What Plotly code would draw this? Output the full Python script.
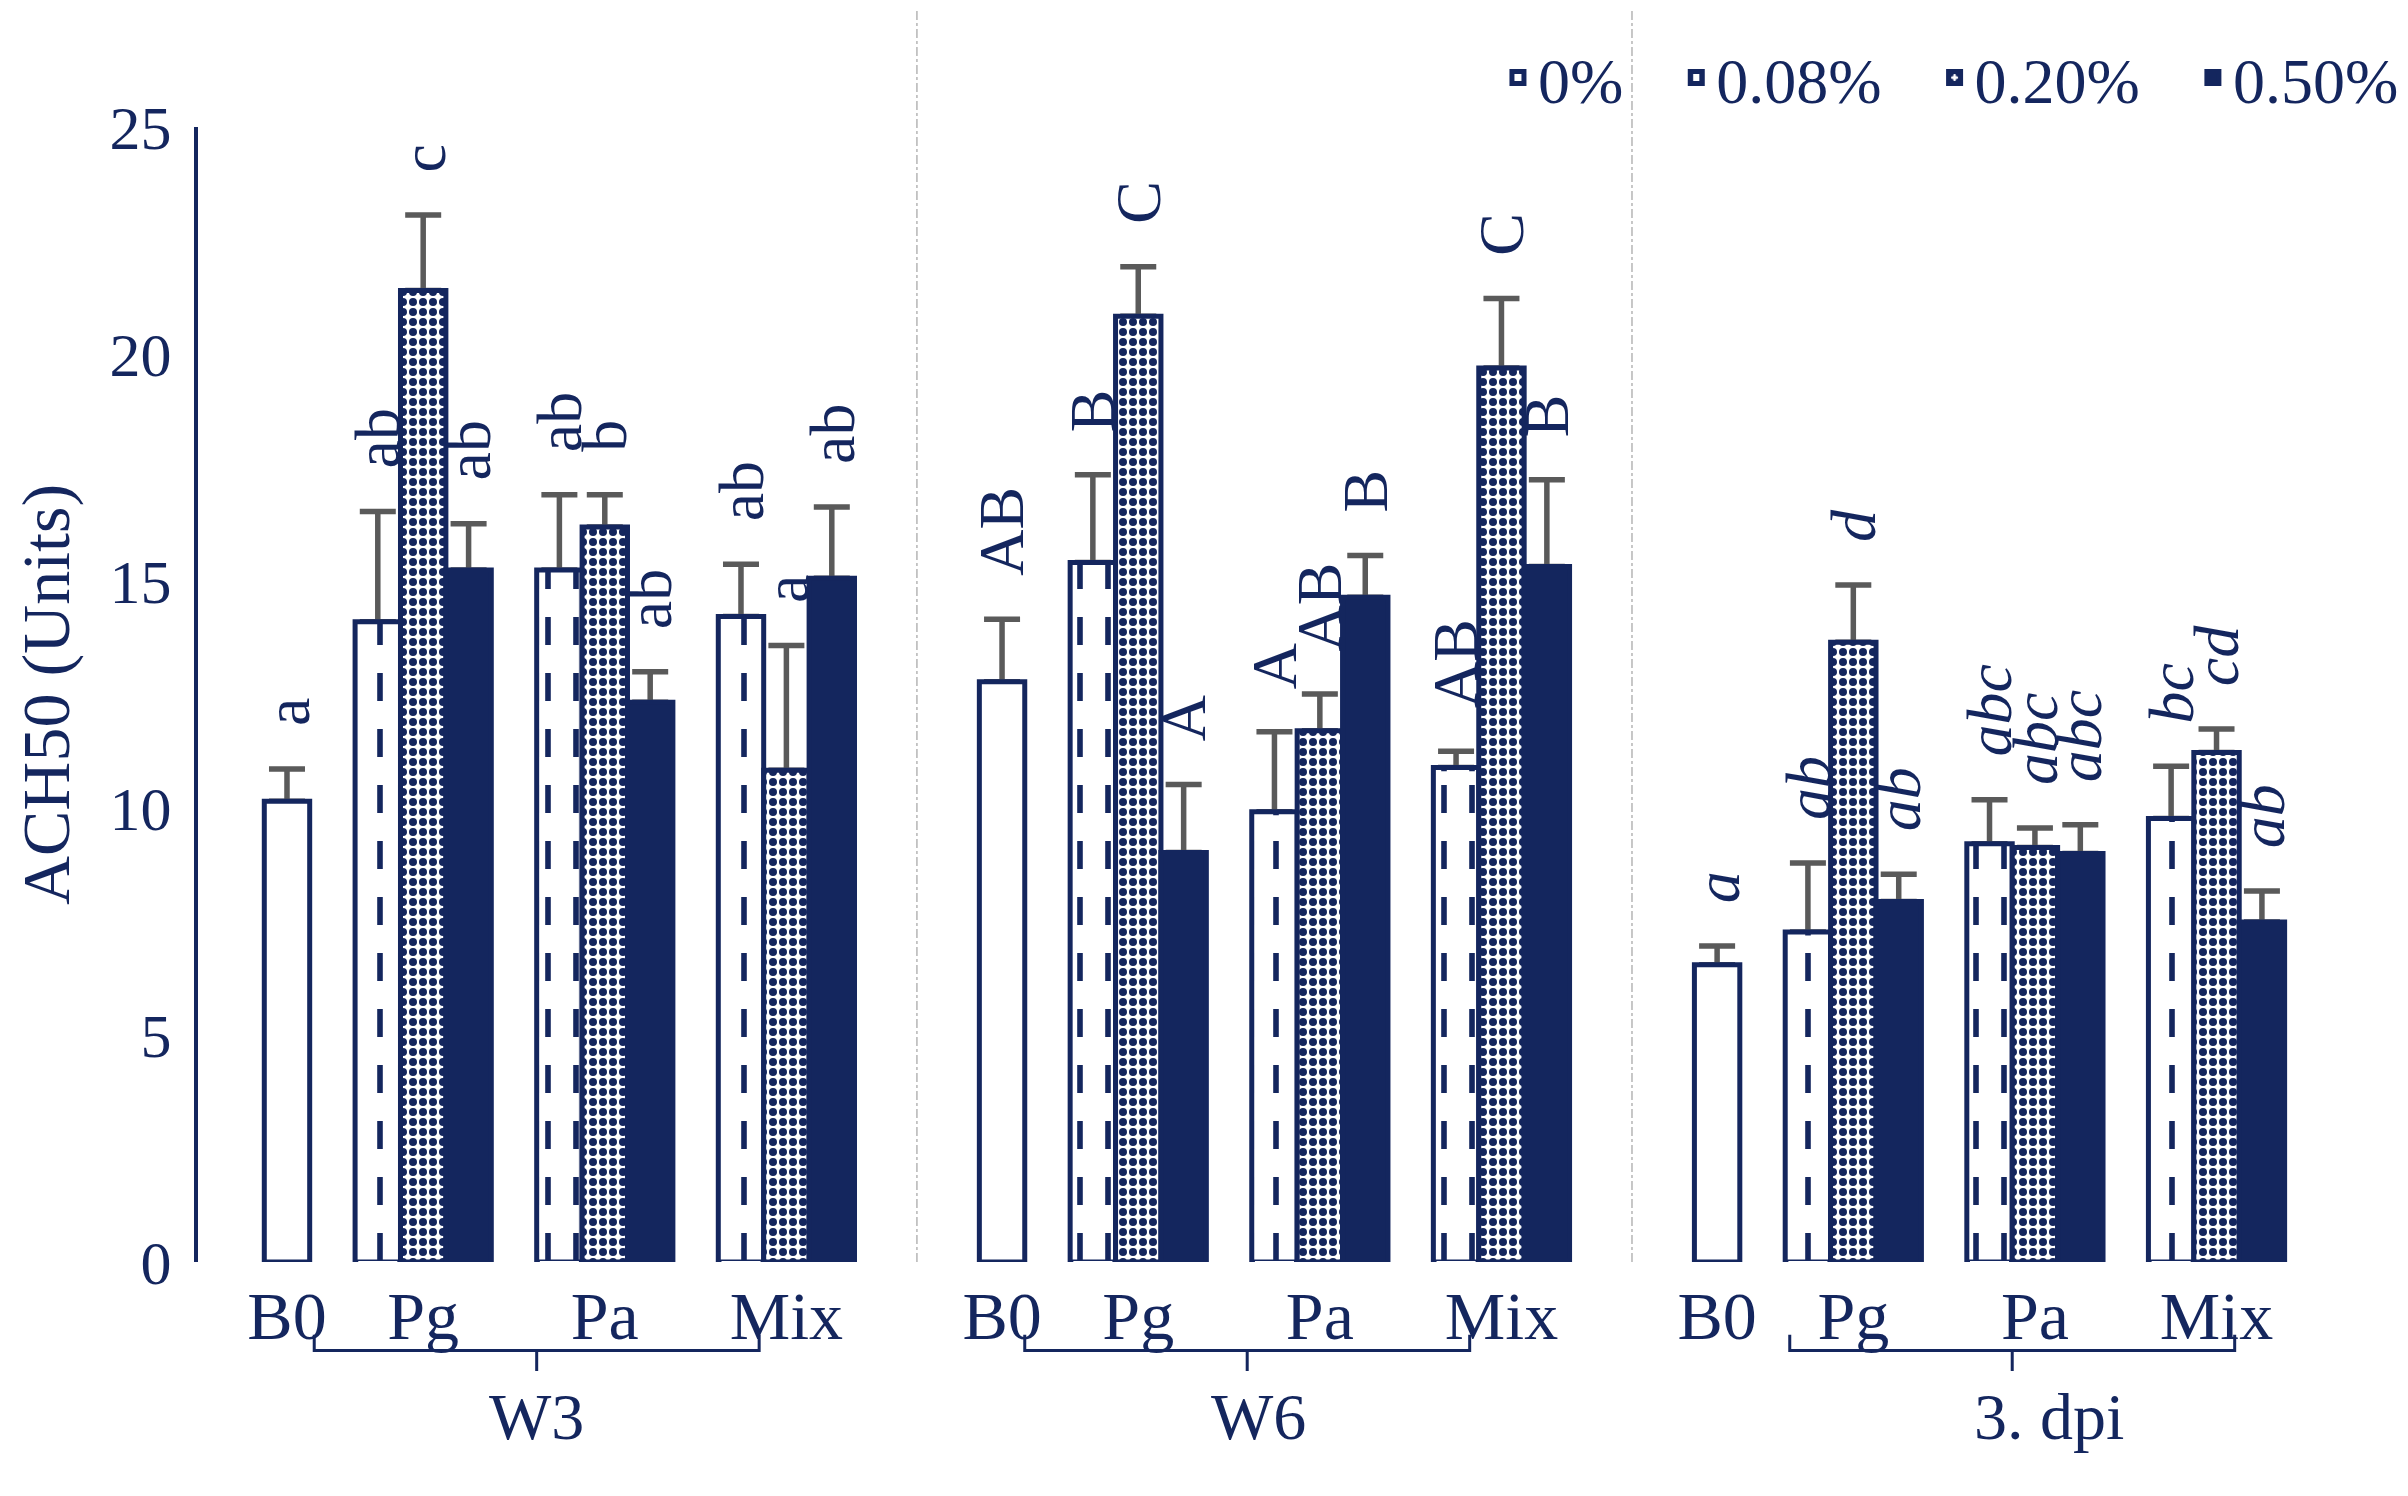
import plotly.graph_objects as go

# sampling times and treatments
groups = ["W3", "W6", "3. dpi"]
treatments = ["Pg", "Pa", "Mix"]
doses = ["0.08%", "0.20%", "0.50%"]

# B0 control (0%) for each sampling time
b0_mean = [10.15, 12.78, 6.55]
b0_err = [0.71, 1.38, 0.41]
b0_letters = ["a", "AB", "a"]

# dose series, ordered W3 Pg/Pa/Mix, W6 Pg/Pa/Mix, 3. dpi Pg/Pa/Mix
mean_008 = [14.10, 15.24, 14.22, 15.41, 9.92, 10.89, 7.27, 9.21, 9.77]
err_008 = [2.43, 1.66, 1.15, 1.93, 1.76, 0.36, 1.52, 0.97, 1.15]
letters_008 = ["ab", "ab", "ab", "B", "A", "AB", "ab", "abc", "bc"]

mean_020 = [21.40, 16.19, 10.83, 20.83, 11.70, 19.69, 13.65, 9.13, 11.22]
err_020 = [1.66, 0.71, 2.75, 1.09, 0.81, 1.53, 1.26, 0.43, 0.52]
letters_020 = ["c", "b", "a", "C", "AB", "C", "d", "abc", "cd"]

mean_050 = [15.24, 12.33, 15.06, 9.02, 14.64, 15.32, 7.94, 9.00, 7.49]
err_050 = [1.02, 0.67, 1.57, 1.50, 0.92, 1.91, 0.60, 0.63, 0.68]
letters_050 = ["ab", "ab", "ab", "A", "B", "B", "ab", "abc", "ab"]

dose_means = [mean_008, mean_020, mean_050]
dose_errs = [err_008, err_020, err_050]
dose_letters = [letters_008, letters_020, letters_050]

NAVY = "#14265e"
GREY = "#5a5a5a"
FONT = "Liberation Serif"
STRIDE = 15.75   # bar slots from one sampling time to the next
Y_MAX = 25
NBSP = "\u00a0"


def b0_x(g):
    return g * STRIDE + 0.5


def dose_x(g, t, d):
    return g * STRIDE + 2 + 4 * t + d + 0.5


b0_xs = [b0_x(g) for g in range(len(groups))]
dose_xs = [[dose_x(g, t, d) for g in range(len(groups)) for t in range(len(treatments))]
           for d in range(len(doses))]

fig = go.Figure()

# error bars first, so the bars drawn afterwards hide the lower caps
all_x = b0_xs + [x for xs in dose_xs for x in xs]
all_y = b0_mean + [v for vs in dose_means for v in vs]
all_e = b0_err + [v for vs in dose_errs for v in vs]
fig.add_trace(go.Bar(
    x=all_x, y=all_y, width=1,
    marker=dict(color="rgba(0,0,0,0)", line=dict(width=0)),
    error_y=dict(type="data", symmetric=False, array=all_e, arrayminus=[0] * len(all_e),
                 color=GREY, thickness=5.5, width=18),
    showlegend=False, hoverinfo="skip"
))

line = dict(color=NAVY, width=5)
fig.add_trace(go.Bar(
    x=b0_xs, y=b0_mean, width=1, name="0%" + NBSP * 3,
    marker=dict(color="white", line=line)
))
styles = [
    dict(color="white", line=line,
         pattern=dict(shape="|", fgcolor=NAVY, bgcolor="white", fgopacity=1,
                      size=28, solidity=0.2)),
    dict(color="white", line=line,
         pattern=dict(shape=".", fgcolor=NAVY, bgcolor="white", fgopacity=1,
                      size=10, solidity=0.5)),
    dict(color=NAVY, line=line),
]
for d in range(len(doses)):
    fig.add_trace(go.Bar(
        x=dose_xs[d], y=dose_means[d], width=1,
        name=doses[d] + (NBSP * 3 if d < len(doses) - 1 else ""),
        marker=styles[d]
    ))

# white bands over the 0.08% bars turn the vertical lines into dashes
fig.add_trace(go.Bar(
    x=dose_xs[0], y=[v - 0.08 for v in mean_008], width=0.86,
    marker=dict(color="rgba(0,0,0,0)", line=dict(width=0),
                pattern=dict(shape="-", fgcolor="white", fgopacity=1,
                             size=56, solidity=0.5)),
    showlegend=False, hoverinfo="skip"
))

# significance letters above error bars
def letter(text, g):
    return f"<i>{text}</i>" if g == 2 else text


annotations = []
pad = 0.9
for g in range(len(groups)):
    annotations.append(dict(
        x=b0_xs[g], y=b0_mean[g] + b0_err[g] + pad, text=letter(b0_letters[g], g)))
for d in range(len(doses)):
    for i, x in enumerate(dose_xs[d]):
        g = i // len(treatments)
        annotations.append(dict(
            x=x, y=dose_means[d][i] + dose_errs[d][i] + pad,
            text=letter(dose_letters[d][i], g)))
for a in annotations:
    a.update(xref="x", yref="y", textangle=-90, showarrow=False,
             xanchor="center", yanchor="bottom",
             font=dict(family=FONT, size=64, color=NAVY))

# group labels and brackets under the treatment labels
bracket_shift = [0, -0.1, 1.0]
label_shift = [0, 0.25, 0.8]
shapes = []
y_br = -1.95 / Y_MAX
y_end = -1.6 / Y_MAX
y_mid = -2.4 / Y_MAX
for g, name in enumerate(groups):
    x0 = g * STRIDE + 1.1 + bracket_shift[g]
    x1 = g * STRIDE + 10.9 + bracket_shift[g]
    xm = (x0 + x1) / 2
    shapes.append(dict(
        type="path", xref="x", yref="paper",
        path=f"M {x0},{y_end} L {x0},{y_br} L {x1},{y_br} L {x1},{y_end} "
             f"M {xm},{y_br} L {xm},{y_mid}",
        line=dict(color=NAVY, width=3)))
    annotations.append(dict(
        x=xm + label_shift[g], y=-3.4 / Y_MAX, xref="x", yref="paper", text=name,
        showarrow=False, xanchor="center", yanchor="middle",
        font=dict(family=FONT, size=66, color=NAVY)))

# dashed separators between sampling times
for g in range(len(groups) - 1):
    xs = (g * STRIDE + 13 + (g + 1) * STRIDE) / 2
    shapes.append(dict(
        type="line", xref="x", yref="paper", x0=xs, x1=xs, y0=0, y1=1.12,
        line=dict(color="#b5b5b5", width=1.5, dash="dashdot")))

tick_vals = []
tick_text = []
for g in range(len(groups)):
    tick_vals.append(b0_xs[g])
    tick_text.append("B0")
    for t, tr in enumerate(treatments):
        tick_vals.append(dose_x(g, t, 1))
        tick_text.append(tr)

fig.update_layout(
    width=2408, height=1496,
    margin=dict(l=190, r=66, t=119, b=242, autoexpand=False),
    plot_bgcolor="white", paper_bgcolor="white",
    barmode="overlay",
    font=dict(family=FONT, color=NAVY),
    annotations=annotations,
    shapes=shapes,
    legend=dict(
        orientation="h", xref="container", yref="container",
        x=0.995, xanchor="right", y=0.9532, yanchor="middle",
        font=dict(family=FONT, size=64, color=NAVY),
        bgcolor="rgba(0,0,0,0)", traceorder="normal"
    ),
    xaxis=dict(
        range=[-1.46, 45.94], tickvals=tick_vals, ticktext=tick_text,
        showline=False, showgrid=False, zeroline=False, ticks="",
        ticklabelstandoff=8,
        tickfont=dict(family=FONT, size=68, color=NAVY)
    ),
    yaxis=dict(
        range=[0, Y_MAX], tickvals=[0, 5, 10, 15, 20, 25],
        showline=True, linecolor=NAVY, linewidth=4,
        showgrid=False, zeroline=False, ticks="",
        ticklabelstandoff=10,
        tickfont=dict(family=FONT, size=62, color=NAVY),
        title=dict(text="ACH50 (Units)", standoff=30,
                   font=dict(family=FONT, size=68, color=NAVY))
    ),
)

fig.write_html("out.html")
